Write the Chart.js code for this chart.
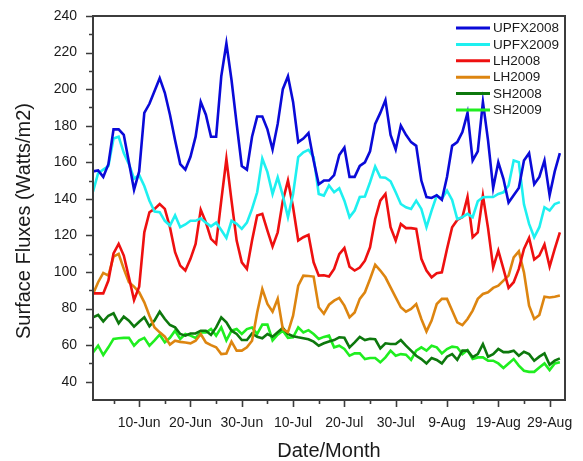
<!DOCTYPE html>
<html>
<head>
<meta charset="utf-8">
<script src="https://cdn.jsdelivr.net/npm/chart.js@4"></script>
<style>
html,body{margin:0;padding:0;background:#fff;}
#wrap{width:583px;height:461px;position:relative;}
</style>
</head>
<body>
<div id="wrap"><canvas id="c" width="583" height="461"></canvas></div>
<script>
// Days since 1 June (0 = 1-Jun ... 91 = 31-Aug)
const tickDays = [9, 19, 29, 39, 49, 59, 69, 79, 89];
const tickLabels = ["10-Jun", "20-Jun", "30-Jun", "10-Jul", "20-Jul", "30-Jul", "9-Aug", "19-Aug", "29-Aug"];
const minorTickDays = [4, 14, 24, 34, 44, 54, 64, 74, 84];
const yTicks = [40, 60, 80, 100, 120, 140, 160, 180, 200, 220, 240];
const seriesNames = ["UPFX2008", "UPFX2009", "LH2008", "LH2009", "SH2008", "SH2009"];

const upfx2008 = [155,155.5,152,159,178,178,175,160,145,155,187,192,199,206,198,186,172,159,156,163,174,193,186,174,174,207,225,205,181,158,156,174,185,185,178,167,181,200,207,193,171,173,176,161,148,150,150,153,164,168,152,152,158,160,166,181,187,194,175,167,180,175,171,169,150,141,140.5,142,139.5,152,169,171,176.5,187,161,166,193,172,146,160,151,138,142,146,161,165,148,152,161,142,155,165];
const upfx2009 = [144,154,156,158,173,174,165,159,151,153,147,139,133,132.7,128,125.4,131,124.5,126,128,128,129.4,127,125,127,123,118.6,128,126.3,123.6,127,134.5,143.6,162,154.6,142.7,151.8,141.8,130,142.7,162.8,165.5,166.8,162.8,142.7,141.8,147.3,143.6,145.8,139,130,133.6,141,141.3,149.1,157.7,151.8,151.6,149.6,143.6,137.2,135.4,134.5,139,134.5,124.5,133.6,141.8,140,144.5,139.4,129,130,131.8,130,138.7,140.9,141,141,142.7,143.6,147.3,161,160,137,126.3,119,124.5,135.4,133.6,137.2,138.2];
const lh2008 = [88.3,88.3,88.3,95.3,110.2,115.4,109,97.1,84.7,92,121.7,132.7,134.5,137.2,134.5,124.5,110.8,103.5,100.8,107.2,115.4,134,127.2,118.1,115.4,139,161.8,139,117.2,105.3,101.7,117.2,130.9,131.8,122.6,113.9,121.7,139,150,135.4,117.2,119,120.3,105.3,98,98.2,97.5,101.7,109.8,113.1,102.9,100.8,102.4,106.2,113.5,129,139,142.7,124.5,117.2,126.3,124,124,123.6,107.2,100.8,97.1,99.3,99.8,112.6,124.5,128.5,130,141,119,121.7,141.8,124,102.5,111.7,101.7,91.3,94.4,101.7,112.6,118.6,106.8,109,115,102.9,112.6,121.7];
const lh2009 = [88,94.4,99.5,98,108.4,109.9,101.7,94.4,92,88.9,83.4,76.1,69.7,67,64.6,60.3,62.4,61.8,61.4,61,62.4,66.1,61.5,60,58.8,55.1,55.4,61.9,57,57,58.8,62.4,77.9,90.7,82.5,78.3,85.3,68.8,67,76.1,92.5,98,97.8,97.5,80.7,77.2,82.1,84.3,85.8,81.6,75.2,77.9,85.3,88.9,96.2,104,100.8,97.1,91.6,86.1,80.7,78.3,79.8,82.5,74.3,67.5,73.4,82.5,85.3,85.3,78.9,72.5,71,74.3,78.9,85.3,88,88.9,91.3,92.5,95.3,98,108,111.3,99.8,81.6,74.3,76.5,86.5,86.1,86.5,87.1];
const sh2008 = [75.2,76.5,73,76.1,77.4,71.9,75.6,73.4,70.1,72.8,75.2,70.3,73.5,78.3,74.3,71,69.7,66.1,65.2,66.4,66.4,67.9,67.9,65.6,69.7,75.2,72.5,67.9,66.1,62.8,62.8,66.4,64.6,63.8,66.1,64.6,67,69.4,66.1,64.9,64.3,63.8,63.2,61.9,59.7,61,62,62.8,64.3,64,58.8,61.5,64.5,62.8,63.5,63.2,58.2,61,60.6,60.6,62.8,59.7,57,54.2,52.4,50,53,51.9,50,53.7,55.1,52,57,57,53.5,55.1,60.6,53.7,55.1,57.9,56.2,56.2,57,54.2,56.4,55.1,51.5,53.7,55.5,49.3,51.5,52.8];
const sh2009 = [56,59.7,54.6,58.8,63.4,63.8,64,64,59.7,62.6,64,59.7,62.6,65.7,61.5,64,67.9,63.4,66.1,65.2,64,66.9,66.9,68.8,65.2,69.7,62.6,67.9,68.8,66.1,68.8,69.7,66.1,71.2,71.2,62.6,65.7,67.9,64,64.3,69.7,66.9,68.2,66.1,63.4,64.5,65.2,58.8,59.7,57.9,54.2,55.5,55.5,52.4,53,53,50.6,53.3,57,54.2,55.1,54.8,51.9,57,58.8,57,59.7,58.8,55.5,57.9,59.2,58.8,55.1,57.3,52.4,53.3,53.3,51.5,51.5,50,47.5,50,52.4,48.8,46,45.4,45.4,47.8,50,46.4,50,50.6];

const seriesValues = [upfx2008, upfx2009, lh2008, lh2009, sh2008, sh2009];
const seriesColors = ["#0a0ad8", "#1ef0f0", "#ee1010", "#dd8510", "#0d780d", "#20ee20"];

const datasets = seriesNames.map((name, i) => ({
  label: name,
  data: seriesValues[i].map((v, d) => ({x: d, y: v})),
  borderColor: seriesColors[i],
  backgroundColor: seriesColors[i],
  borderWidth: 2.6,
  pointRadius: 0,
  tension: 0,
  fill: false
}));

const FONT = '"Liberation Sans", Arial, sans-serif';
const AXIS = '#3c3c3c';

const decor = {
  id: 'decor',
  afterDatasetsDraw(chart) {
    const ctx = chart.ctx;
    const a = chart.chartArea;
    const xs = chart.scales.x, ys = chart.scales.y;
    ctx.save();
    // frame
    ctx.strokeStyle = AXIS;
    ctx.lineWidth = 2;
    ctx.strokeRect(a.left, a.top, a.right - a.left, a.bottom - a.top);
    // ticks
    ctx.lineWidth = 1.6;
    ctx.beginPath();
    yTicks.forEach(v => {
      const y = Math.round(ys.getPixelForValue(v)) + 0.5;
      ctx.moveTo(a.left - 7, y); ctx.lineTo(a.left, y);
    });
    yTicks.slice(0, -1).forEach(v => {
      const y = Math.round(ys.getPixelForValue(v + 10)) + 0.5;
      ctx.moveTo(a.left - 4, y); ctx.lineTo(a.left, y);
    });
    tickDays.forEach(d => {
      const x = Math.round(xs.getPixelForValue(d)) + 0.5;
      ctx.moveTo(x, a.bottom); ctx.lineTo(x, a.bottom + 7);
    });
    minorTickDays.forEach(d => {
      const x = Math.round(xs.getPixelForValue(d)) + 0.5;
      ctx.moveTo(x, a.bottom); ctx.lineTo(x, a.bottom + 4);
    });
    ctx.stroke();
    // tick labels
    ctx.fillStyle = '#1a1a1a';
    ctx.font = '14px ' + FONT;
    ctx.textAlign = 'right'; ctx.textBaseline = 'middle';
    yTicks.forEach(v => ctx.fillText(String(v), a.left - 16, ys.getPixelForValue(v)));
    ctx.textAlign = 'center';
    tickDays.forEach((d, i) => ctx.fillText(tickLabels[i], xs.getPixelForValue(d), a.bottom + 23));
    // axis titles
    ctx.font = '20px ' + FONT;
    ctx.fillText('Date/Month', (a.left + a.right) / 2, 451);
    ctx.save();
    ctx.translate(24, 221);
    ctx.rotate(-Math.PI / 2);
    ctx.fillText('Surface Fluxes (Watts/m2)', 0, 0);
    ctx.restore();
    // legend
    ctx.font = '13.5px ' + FONT;
    ctx.textAlign = 'left';
    chart.data.datasets.forEach((ds, i) => {
      const y = 28 + 16.4 * i;
      ctx.strokeStyle = ds.borderColor;
      ctx.lineWidth = 3;
      ctx.beginPath(); ctx.moveTo(456, y); ctx.lineTo(490, y); ctx.stroke();
      ctx.fillStyle = '#1a1a1a';
      ctx.fillText(ds.label, 493, y + 0.5);
    });
    ctx.restore();
  }
};

new Chart(document.getElementById('c'), {
  type: 'line',
  data: { datasets },
  options: {
    responsive: false,
    animation: false,
    devicePixelRatio: 1,
    layout: { padding: { left: 93, top: 16, right: 18, bottom: 61 } },
    plugins: { legend: { display: false }, tooltip: { enabled: false } },
    scales: {
      x: { type: 'linear', min: 0, max: 92, display: false },
      y: { type: 'linear', min: 30, max: 240, display: false }
    }
  },
  plugins: [decor]
});
</script>
</body>
</html>
